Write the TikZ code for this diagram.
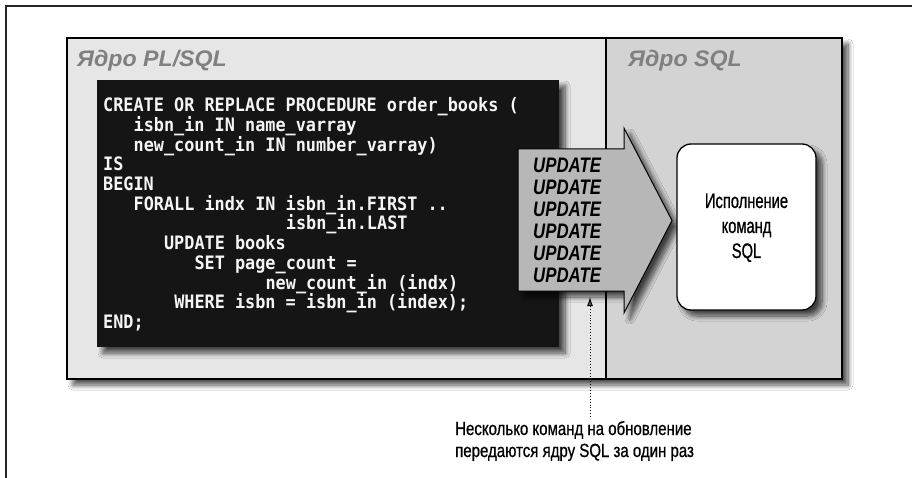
\documentclass[tikz,border=0pt]{standalone}
\usepackage{fontspec}
\setmainfont{Liberation Sans}
\newfontfamily\titlefont[FakeStretch=1.03]{Liberation Sans}
\newfontfamily\execfont[FakeStretch=0.7,FakeBold=0.8]{Liberation Sans}
\newfontfamily\capfont[FakeStretch=0.79,FakeBold=0.7]{Liberation Sans}
\newfontfamily\updfont[FakeStretch=0.8]{Liberation Sans}
\newfontfamily\codefont[FakeStretch=0.91]{DejaVu Sans Mono}
\usetikzlibrary{shadows.blur,arrows.meta}
\definecolor{panelL}{HTML}{E6E6E6}
\definecolor{panelR}{HTML}{D3D3D3}
\definecolor{codebg}{HTML}{151515}
\definecolor{arrowfill}{HTML}{B7B7B7}
\begin{document}
\begin{tikzpicture}[x=1pt,y=-1pt,
  plainbox/.style={anchor=north west, inner sep=0pt, outer sep=0pt},
  shd/.style={blur shadow={shadow xshift=6pt, shadow yshift=-6pt, shadow blur radius=5pt, shadow blur steps=10, shadow opacity=70}},
  ttl/.style={anchor=west, inner sep=0pt, text=black!50, font=\titlefont\fontsize{22.5}{24}\selectfont\bfseries\itshape},
  codeline/.style={anchor=base west, inner sep=0pt, text=black!4, font=\codefont\bfseries\fontsize{18.5}{19.7}\selectfont},
  updline/.style={anchor=base west, inner sep=0pt, font=\updfont\bfseries\itshape\fontsize{21}{22}\selectfont},
  execline/.style={anchor=base, inner sep=0pt, font=\execfont\fontsize{21}{25}\selectfont},
  captext/.style={anchor=base west, inner sep=0pt, font=\capfont\fontsize{19}{22}\selectfont},
  framelines/.style={line width=2pt, black!85}
]
\useasboundingbox[fill=white] (0,0) rectangle (912,478);
% outer frame (top and left edges)
\draw[framelines] (6,478) -- (6,6) -- (912,6);

% panel shadow + panels
\path[shd, fill=panelR] (67,38) rectangle (842,379);
\node[plainbox, fill=panelL, draw=black, line width=1.3pt, minimum width=539pt, minimum height=341pt] (plsql) at (67,38) {};
\node[plainbox, fill=panelR, draw=black, line width=1.3pt, minimum width=236pt, minimum height=341pt] (sqlk) at (606,38) {};

\node[ttl] (t1) at (77,61) {Ядро PL/SQL};
\node[ttl] (t2) at (628,61) {Ядро SQL};

% code box
\node[plainbox, shd, fill=codebg, minimum width=462pt, minimum height=267pt] (codebox) at (97,80) {};
\node[codeline] (c1)  at (103,111.7) {CREATE OR REPLACE PROCEDURE order\_books (};
\node[codeline] (c2)  at (133.45,131.4) {isbn\_in IN name\_varray};
\node[codeline] (c3)  at (133.45,151.1) {new\_count\_in IN number\_varray)};
\node[codeline] (c4)  at (103,170.8) {IS};
\node[codeline] (c5)  at (103,190.5) {BEGIN};
\node[codeline] (c6)  at (133.45,210.2) {FORALL indx IN isbn\_in.FIRST ..};
\node[codeline] (c7)  at (285.7,229.9) {isbn\_in.LAST};
\node[codeline] (c8)  at (163.9,249.6) {UPDATE books};
\node[codeline] (c9)  at (194.35,269.3) {SET page\_count =};
\node[codeline] (c10) at (265.4,289.0) {new\_count\_in (indx)};
\node[codeline] (c11) at (174.05,308.7) {WHERE isbn = isbn\_in (index);};
\node[codeline] (c12) at (103,328.4) {END;};

% block arrow
\path[shd, fill=arrowfill, draw=black, line width=1pt, line join=miter]
  (518,149) -- (624,149) -- (624,128) -- (672,220.5) -- (624,313) -- (624,291) -- (518,291) -- cycle;
\foreach \i in {0,...,5}{
  \node[updline] (u\i) at (533,173+\i*21.8) {UPDATE};
}

% execution box
\node[plainbox, shd, fill=white, draw=black, line width=1.3pt, rounded corners=14pt, minimum width=139pt, minimum height=166pt] (ex) at (677,144) {};
\node[execline] (e1) at (746.5,208) {Исполнение};
\node[execline] (e2) at (746.5,233) {команд};
\node[execline] (e3) at (746.5,258) {SQL};

% caption and dotted pointer
\node[captext] (cap1) at (455,435) {Несколько команд на обновление};
\node[captext] (cap2) at (455,457) {передаются ядру SQL за один раз};
\coordinate (ps) at (590,417);
\coordinate (pt) at (590,297);
\draw[dotted, line width=0.9pt, -{Latex[length=9pt,width=6pt]}] (ps) -- (pt);
\end{tikzpicture}
\end{document}
